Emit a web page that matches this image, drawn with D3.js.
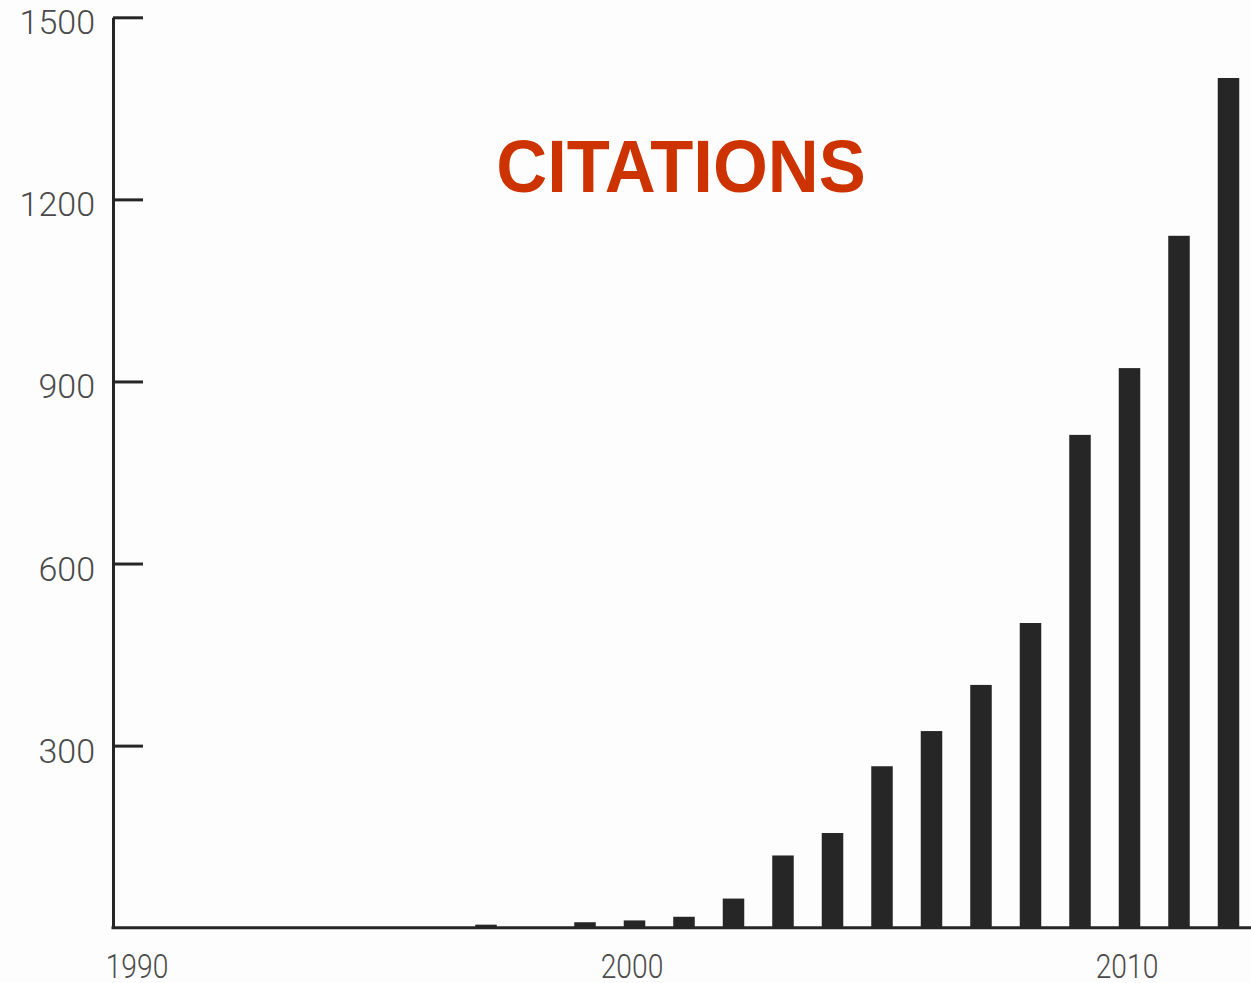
<!DOCTYPE html>
<html>
<head>
<meta charset="utf-8">
<script src="https://cdn.jsdelivr.net/npm/d3@7"></script>
<style>
  html, body { margin: 0; padding: 0; background: #fdfdfd; }
  svg { display: block; }
</style>
</head>
<body>
<svg id="chart" width="1251" height="983"></svg>
<script>
// Citations per year
const years = [1990, 1991, 1992, 1993, 1994, 1995, 1996, 1997, 1998, 1999, 2000,
               2001, 2002, 2003, 2004, 2005, 2006, 2007, 2008, 2009, 2010, 2011, 2012];
const citations = [0, 0, 0, 0, 0, 0, 0, 5, 0, 9, 12,
                   18, 48, 119, 156, 266, 324, 400, 502, 812, 922, 1140, 1400];
const yTicks = [300, 600, 900, 1200, 1500];
const xTicks = [1990, 2000, 2010];
const title = "CITATIONS";

const svg = d3.select("#chart");
const W = 1251;

const axisX0 = 113;
const x = d3.scaleLinear().domain([1990, 2012]).range([139.5, 1228.5]);
const y = d3.scaleLinear().domain([0, 1500]).range([927.7, 17.3]);
const barW = 21.5;
const ink = "#272626";

// Bars
svg.append("g")
  .selectAll("rect")
  .data(years.map((yr, i) => ({ year: yr, value: citations[i] })).filter(d => d.value > 0))
  .join("rect")
  .attr("x", d => x(d.year) - barW / 2)
  .attr("y", d => y(d.value))
  .attr("width", barW)
  .attr("height", d => y(0) - y(d.value))
  .attr("fill", ink);

// Vertical axis: ticks point into the plot, labels on the left
const yAxis = svg.append("g")
  .attr("transform", `translate(${axisX0},0)`)
  .call(d3.axisLeft(y).tickValues(yTicks).tickFormat(d3.format("d"))
    .tickSizeInner(-30).tickSizeOuter(0).tickPadding(18));
yAxis.select(".domain").attr("stroke", ink).attr("stroke-width", 3);
yAxis.selectAll(".tick line").attr("stroke", ink).attr("stroke-width", 3);
yAxis.selectAll(".tick text")
  .attr("dy", 16.5)
  .attr("fill", "#4a4a4a")
  .style("font-family", "Roboto")
  .style("font-weight", 300)
  .style("font-size", "34px");

// Baseline
svg.append("line")
  .attr("x1", axisX0 - 1.5).attr("x2", W)
  .attr("y1", y(0)).attr("y2", y(0))
  .attr("stroke", ink).attr("stroke-width", 3);

// Year labels
const xAxis = svg.append("g")
  .attr("transform", `translate(0,${y(0)})`)
  .call(d3.axisBottom(x).tickValues(xTicks).tickFormat(d3.format("d")).tickSize(0));
xAxis.select(".domain").remove();
xAxis.selectAll(".tick text")
  .attr("y", 0)
  .attr("dy", 0)
  .attr("transform", "translate(-3,50) scale(0.83,1)")
  .attr("fill", "#4a4a4a")
  .style("font-family", "Roboto")
  .style("font-weight", 300)
  .style("font-size", "34px");

// Title
svg.append("text")
  .attr("transform", "translate(681,191.5) scale(0.94,1)")
  .attr("text-anchor", "middle")
  .attr("fill", "#cc3300")
  .style("font-family", "'Liberation Sans', Arial, sans-serif")
  .style("font-weight", "bold")
  .style("font-size", "75px")
  .text(title);
</script>
</body>
</html>
